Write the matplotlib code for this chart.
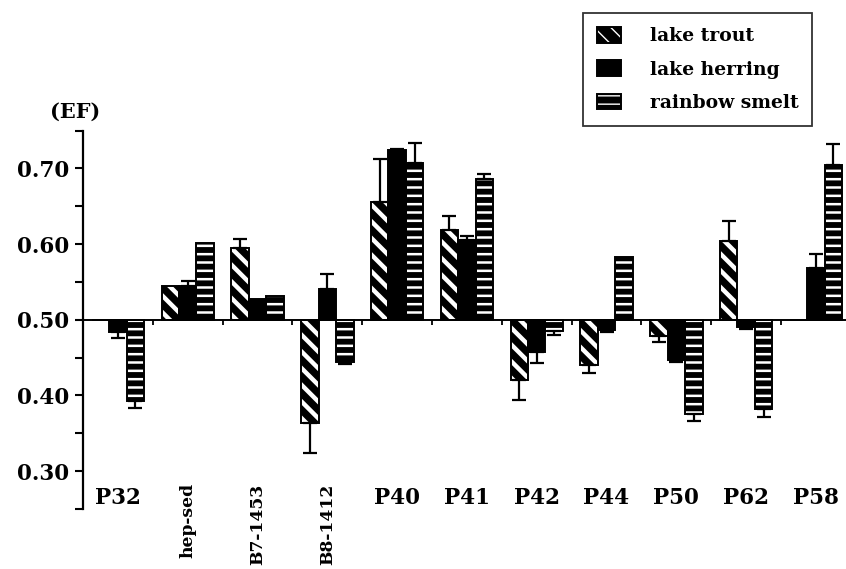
import numpy as np
import matplotlib
matplotlib.use("Agg")
import matplotlib.pyplot as plt
from matplotlib.patches import Patch
from matplotlib.legend_handler import HandlerTuple

# sites on the x axis
sites = ["P32", "hep-sed", "B7-1453", "B8-1412", "P40", "P41",
         "P42", "P44", "P50", "P62", "P58"]
rotated = ["hep-sed", "B7-1453", "B8-1412"]

# enantiomer fraction per species
trout = [0.500, 0.545, 0.595, 0.364, 0.655, 0.618, 0.421, 0.440, 0.478, 0.604, 0.500]
trout_err = [0, 0, 0.012, 0.040, 0.058, 0.019, 0.027, 0.010, 0.008, 0.027, 0]
herring = [0.484, 0.544, 0.528, 0.541, 0.724, 0.606, 0.457, 0.487, 0.447, 0.490, 0.569]
herring_err = [0.008, 0.007, 0, 0.020, 0.002, 0.005, 0.014, 0.003, 0.003, 0.002, 0.018]
smelt = [0.393, 0.602, 0.532, 0.444, 0.707, 0.686, 0.485, 0.583, 0.375, 0.382, 0.705]
smelt_err = [0.009, 0, 0, 0.002, 0.027, 0.007, 0.005, 0, 0.009, 0.010, 0.027]

series = [("lake trout", trout, trout_err, "\\\\", 3.2),
          ("lake herring", herring, herring_err, None, 1.0),
          ("rainbow smelt", smelt, smelt_err, "--", 1.8)]

font = dict(family="DejaVu Serif", weight="bold")
base = 0.5
w = 0.25

fig = plt.figure(figsize=(8.46, 5.69), dpi=100)
ax = fig.add_axes([83/846, 1 - 509/569, 763/846, 378.5/569])

x = np.arange(len(sites))
handles = []
for k, (name, vals, errs, hatch, hlw) in enumerate(series):
    vals = np.array(vals)
    errs = np.array(errs)
    pos = x + (k - 1) * w
    with plt.rc_context({"hatch.linewidth": hlw}):
        if hatch:
            ax.bar(pos, vals - base, w, bottom=base, color="black",
                   edgecolor="white", hatch=hatch, linewidth=0, zorder=2)
            fill = Patch(facecolor="black", edgecolor="white", hatch=hatch, linewidth=0)
        else:
            ax.bar(pos, vals - base, w, bottom=base, color="black",
                   linewidth=0, zorder=2)
            fill = Patch(facecolor="black", linewidth=0)
    ax.bar(pos, vals - base, w, bottom=base, fill=False,
           edgecolor="black", linewidth=1.4, zorder=3)
    m = errs > 0
    up = np.where(vals >= base, errs, 0)
    dn = np.where(vals < base, errs, 0)
    ax.errorbar(pos[m], vals[m], yerr=[dn[m], up[m]], fmt="none",
                ecolor="black", elinewidth=1.6, capsize=5, capthick=1.6, zorder=4)
    outline = Patch(fill=False, edgecolor="black", linewidth=1.4)
    handles.append((fill, outline))

ax.set_xlim(-0.5, 10.43)
ax.set_ylim(0.25, 0.75)

ax.spines["top"].set_visible(False)
ax.spines["right"].set_visible(False)
ax.spines["left"].set_linewidth(1.6)
ax.spines["bottom"].set_position(("data", base))
ax.spines["bottom"].set_linewidth(1.4)

yt = np.arange(0.25, 0.751, 0.05)
ax.set_yticks(yt)
ax.set_yticklabels(["%.2f" % v if round(v * 100) % 10 == 0 else "" for v in yt],
                   fontsize=15.5, **font)
ax.tick_params(axis="y", direction="out", length=6, width=1.5, pad=4)

ax.set_xticks(np.arange(0.5, 10.5, 1.0))
ax.set_xticklabels([])
ax.tick_params(axis="x", direction="out", length=3.5, width=1.3)

tr = ax.get_xaxis_transform()
for i, s in enumerate(sites):
    if s in rotated:
        ax.text(i, 0.068, s, rotation=90, ha="center", va="top",
                fontsize=12.3, transform=tr, clip_on=False, **font)
    else:
        ax.text(i, 0.029, s, ha="center", va="center",
                fontsize=15.5, transform=tr, clip_on=False, **font)

fig.text(75/846, 1 - 112/569, "(EF)", ha="center", va="center", fontsize=15, **font)

leg = fig.legend(handles, [s[0] for s in series],
                 handler_map={tuple: HandlerTuple(ndivide=1, pad=0)},
                 loc="upper left", bbox_to_anchor=(583/846, 1 - 13/569),
                 prop=dict(family="DejaVu Serif", weight="bold", size=13.5),
                 fancybox=False, frameon=True, handlelength=1.3, handleheight=0.9,
                 labelspacing=0.8, handletextpad=1.5, borderpad=0.75, borderaxespad=0)
leg.get_frame().set_edgecolor("black")
leg.get_frame().set_linewidth(1.3)

fig.savefig("out.png", dpi=100)
